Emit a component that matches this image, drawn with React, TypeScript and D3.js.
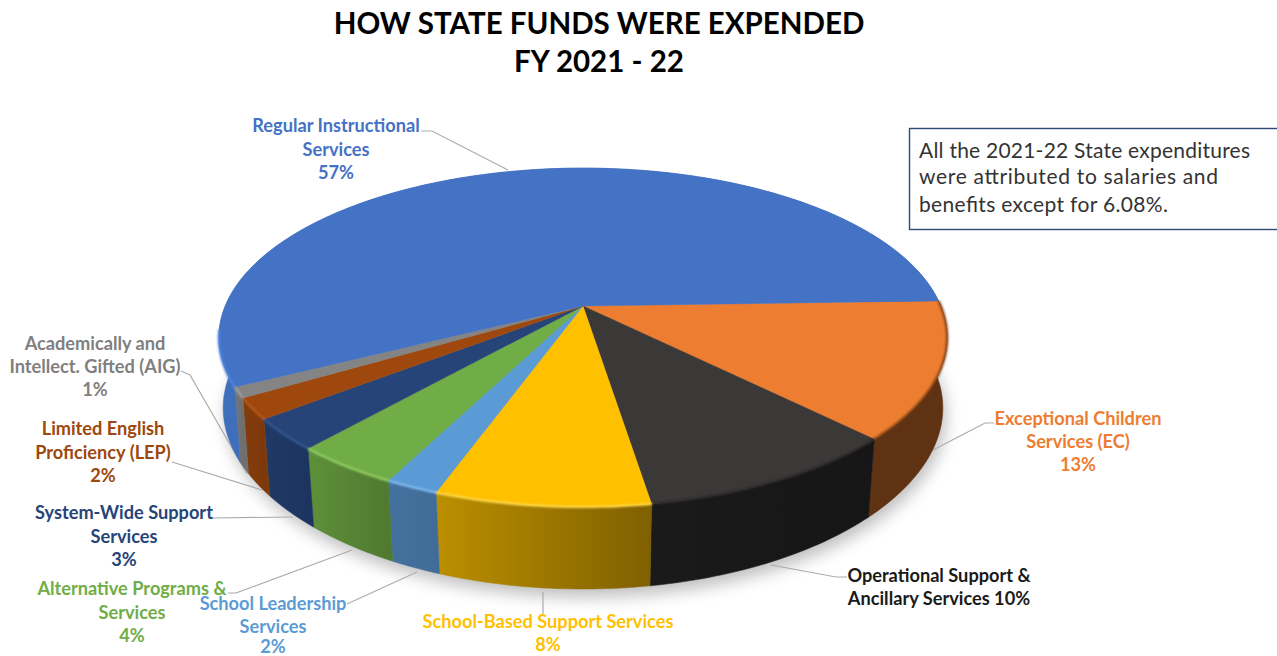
import React from "react";
import * as d3 from "d3";

// Spending shares, clockwise from the orange wedge
const categories = [
  "Exceptional Children Services (EC)",
  "Operational Support & Ancillary Services",
  "School-Based Support Services",
  "School Leadership Services",
  "Alternative Programs & Services",
  "System-Wide Support Services",
  "Limited English Proficiency (LEP)",
  "Academically and Intellect. Gifted (AIG)",
  "Regular Instructional Services",
];
const shares = [13, 10, 8, 2, 4, 3, 2, 1, 57];
const titleLines = ["HOW STATE FUNDS WERE EXPENDED", "FY 2021 - 22"];
const noteLines = [
  "All the 2021-22 State expenditures",
  "were attributed to salaries and",
  "benefits except for 6.08%.",
];

const topColors = ["#ED7D31", "#3B3838", "#FFC000", "#5B9BD5", "#70AD47", "#264478", "#9E480E", "#848484", "#4472C4"];
const sideFrom = ["#5F3213", "#1A1A1A", "#BC8F00", "#44719E", "#5E9039", "#1F3A66", "#843C0C", "#757575", "#3F6FBA"];
const sideTo = ["#5F3213", "#161616", "#7F6000", "#3F6C98", "#4F7A30", "#1C3560", "#7E390B", "#6F6F6F", "#3B68B0"];
const rimColors = ["#7A3F18", "#2A2828", "#FFD84D", "#7FBBF0", "#93CF63", "#34588F", "#B85A1C", "#A0A0A0", "#4F86E0"];
const textColors = ["#ED7D31", "#1A1A1A", "#FFC000", "#5B9BD5", "#70AD47", "#264478", "#9E480E", "#7F7F7F", "#4472C4"];

type Callout = { lines: string[]; cx: number; ys: number[]; leader: [number, number][] };

// Label blocks and their leader lines, in the same order as the shares
const callouts: Callout[] = [
  { lines: ["Exceptional Children", "Services (EC)", "13%"], cx: 1078, ys: [418, 441, 464], leader: [[994, 423], [985, 423], [933, 450]] },
  { lines: ["Operational Support &", "Ancillary Services 10%"], cx: 939, ys: [575, 598], leader: [[847, 577], [836, 577], [771, 565]] },
  { lines: ["School-Based Support Services", "8%"], cx: 548, ys: [621, 644], leader: [[543, 592], [543, 614]] },
  { lines: ["School Leadership", "Services", "2%"], cx: 273, ys: [603, 626, 646], leader: [[347, 604], [417, 572]] },
  { lines: ["Alternative Programs &", "Services", "4%"], cx: 132, ys: [588, 612, 635], leader: [[228, 593], [236, 593], [352, 550]] },
  { lines: ["System-Wide Support", "Services", "3%"], cx: 124, ys: [512, 536, 559], leader: [[213, 518], [293, 517]] },
  { lines: ["Limited English", "Proficiency (LEP)", "2%"], cx: 103, ys: [428, 452, 475], leader: [[172, 462], [262, 490]] },
  { lines: ["Academically and", "Intellect. Gifted (AIG)", "1%"], cx: 95, ys: [343, 366, 389], leader: [[181, 371], [190, 375], [247, 474]] },
  { lines: ["Regular Instructional", "Services", "57%"], cx: 336, ys: [125, 149, 172], leader: [[421, 131], [432, 131], [508, 170]] },
];

// Perspective disc: a circle tilted toward the viewer, hub at (hubX, hubY)
const hubX = 583;
const hubY = 306;
const radiusX = 357.8;
const radiusY = 163.6;
const perspective = 0.186;
const bottomScaleX = 0.977;
const bottomBulge = 0.012;
const depthBase = 70;
const depthGrowth = 1.06;

type Pt = [number, number];

function topPoint(pieAngle: number): Pt {
  const u = Math.sin(pieAngle);
  const v = -Math.cos(pieAngle);
  const w = 1 - perspective * v;
  return [hubX + (radiusX * u) / w, hubY + (radiusY * v) / w];
}

// Lower edge of the wall: slightly narrower than the top, fuller at the sides
function bottomPoint(pieAngle: number): Pt {
  const [x, y] = topPoint(pieAngle);
  const v = Math.cos(pieAngle);
  const scale = bottomScaleX + bottomBulge * (1 - v * v) ** 0 * (1 - v * v) * (1 - v * v);
  return [hubX + (x - hubX) * scale, hubY + depthBase + (y - hubY) * depthGrowth];
}

function arcPoints(from: number, to: number, at: (a: number) => Pt): Pt[] {
  const steps = Math.max(4, Math.ceil(Math.abs(to - from) / 0.02));
  const angle = d3.scaleLinear().domain([0, steps]).range([from, to]);
  return d3.range(steps + 1).map((i) => at(angle(i)));
}

const linePath = d3.line<Pt>().x((p) => p[0]).y((p) => p[1]);

const startDeg = 88.2;
const pieLayout = d3
  .pie<number>()
  .sort(null)
  .startAngle((startDeg * Math.PI) / 180)
  .endAngle((startDeg * Math.PI) / 180 + 2 * Math.PI);

const labelFont = "Lato, 'Open Sans', sans-serif";
const noteWidths = [331, 299, 249];

export default function App() {
  const arcs = pieLayout(shares);
  const whole = 2 * Math.PI;
  const shadowPath =
    linePath(arcPoints(0, whole, (a) => {
      const [x, y] = bottomPoint(a);
      return [x + 3, y + 8] as Pt;
    })) + "Z";

  return (
    <svg
      width={1277}
      height={656}
      viewBox="0 0 1277 656"
      style={{ position: "absolute", left: 0, top: 0, background: "#fff" }}
    >
      <defs>
        <filter id="dropShadow" x="-10%" y="-10%" width="120%" height="120%">
          <feGaussianBlur stdDeviation="8" />
        </filter>
        <filter id="rimSoft" x="-5%" y="-5%" width="110%" height="110%">
          <feGaussianBlur stdDeviation="0.9" />
        </filter>
        {arcs.map((arc, i) => {
          const xs = [topPoint(arc.startAngle)[0], topPoint(arc.endAngle)[0]];
          return (
            <linearGradient
              key={categories[i]}
              id={`side-${i}`}
              gradientUnits="userSpaceOnUse"
              x1={Math.min(...xs)}
              x2={Math.max(...xs)}
              y1={0}
              y2={0}
            >
              <stop offset="0%" stopColor={sideFrom[i]} />
              <stop offset="100%" stopColor={sideTo[i]} />
            </linearGradient>
          );
        })}
      </defs>

      {/* Title */}
      <g fontFamily={labelFont} fontWeight={700} fontSize={29.5} fill="#000" textAnchor="middle">
        {titleLines.map((line, i) => (
          <text key={line} x={599} y={34 + i * 38}>
            {line}
          </text>
        ))}
      </g>

      {/* Soft shadow cast under the disc */}
      <path d={shadowPath} fill="#8a8a8a" opacity={0.55} filter="url(#dropShadow)" />

      {/* Leader lines sit under the disc edge */}
      <g fill="none" stroke="#ABABAB" strokeWidth={1.2}>
        {callouts.map((c, i) => (
          <path key={categories[i]} d={linePath(c.leader) ?? ""} />
        ))}
      </g>

      {/* Rim walls */}
      {arcs.map((arc, i) => {
        const upper = arcPoints(arc.startAngle, arc.endAngle, topPoint);
        const lower = arcPoints(arc.endAngle, arc.startAngle, bottomPoint);
        return (
          <path
            key={categories[i]}
            d={linePath([...upper, ...lower]) + "Z"}
            fill={`url(#side-${i})`}
            stroke={`url(#side-${i})`}
            strokeWidth={0.5}
          />
        );
      })}

      {/* Top faces */}
      {arcs.map((arc, i) => {
        const edge = arcPoints(arc.startAngle, arc.endAngle, topPoint);
        return (
          <path
            key={categories[i]}
            d={linePath([[hubX, hubY], ...edge]) + "Z"}
            fill={topColors[i]}
            stroke={topColors[i]}
            strokeWidth={0.4}
          />
        );
      })}

      {/* Bevel along the front of the top edge */}
      <g fill="none" strokeWidth={2.2} filter="url(#rimSoft)">
        {arcs.map((arc, i) => {
          const end = i === arcs.length - 1 ? Math.min(arc.endAngle, (262 * Math.PI) / 180) : arc.endAngle;
          return (
            <path
              key={categories[i]}
              d={linePath(arcPoints(arc.startAngle, end, topPoint)) ?? ""}
              stroke={rimColors[i]}
            />
          );
        })}
      </g>

      {/* Note box */}
      <rect x={909.5} y={128.5} width={380} height={101} fill="#fff" stroke="#2F4A78" strokeWidth={1.4} />
      <g fontFamily={labelFont} fontSize={21} fontWeight={400} fill="#333">
        {noteLines.map((line, i) => (
          <text key={line} x={919} y={[158, 184, 212][i]} textLength={noteWidths[i]} lengthAdjust="spacing">
            {line}
          </text>
        ))}
      </g>

      {/* Category labels */}
      <g fontFamily={labelFont} fontWeight={700} fontSize={18.2} textAnchor="middle">
        {callouts.map((c, i) => (
          <g key={categories[i]} fill={textColors[i]}>
            {c.lines.map((line, j) => (
              <text key={line} x={c.cx} y={c.ys[j]} dy="0.36em">
                {line}
              </text>
            ))}
          </g>
        ))}
      </g>
    </svg>
  );
}
